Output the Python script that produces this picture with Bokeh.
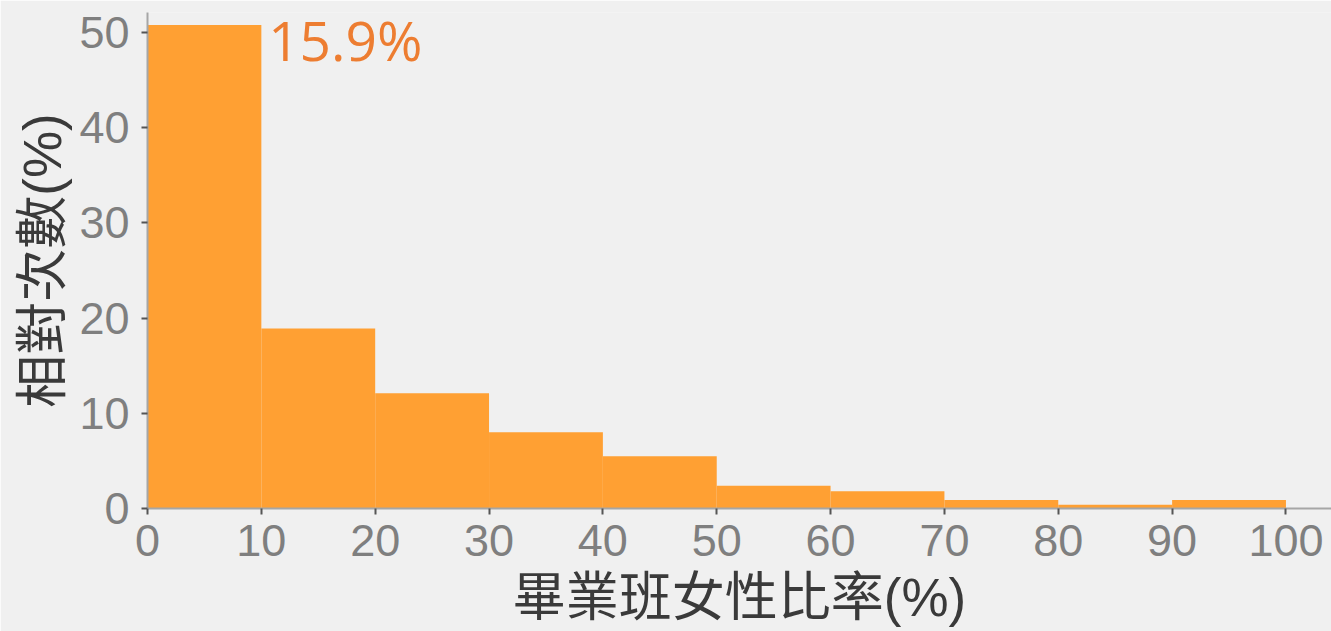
from bokeh.plotting import figure
from bokeh.models import Range1d, ColumnDataSource, Label, FixedTicker
from bokeh.embed import file_html
from bokeh.resources import INLINE

bin_left = [0, 10, 20, 30, 40, 50, 60, 70, 80, 90]
bin_right = [10, 20, 30, 40, 50, 60, 70, 80, 90, 100]
rel_freq = [50.8, 18.9, 12.1, 8.0, 5.5, 2.4, 1.8, 0.9, 0.4, 0.9]
x_ticks = [0, 10, 20, 30, 40, 50, 60, 70, 80, 90, 100]
y_ticks = [0, 10, 20, 30, 40, 50]
annotation = "15.9%"
x_title = "畢業班女性比率(%)"
y_title = "相對次數(%)"

src = ColumnDataSource(dict(left=bin_left, right=bin_right, top=rel_freq,
                            bottom=[0] * len(rel_freq)))

p = figure(width=1331, height=631, output_backend="svg", toolbar_location=None,
           x_range=Range1d(0, 104.0), y_range=Range1d(0, 52.1),
           min_border_left=147, min_border_right=0, min_border_top=12,
           min_border_bottom=123,
           background_fill_color="#f0f0f0", border_fill_color="#f0f0f0")
p.outline_line_color = None
p.grid.visible = False

p.quad(left="left", right="right", top="top", bottom="bottom", source=src,
       fill_color="#FFA033", line_color=None)

label_font = "Liberation Sans, 'Noto Sans CJK TC'"
for ax in (p.xaxis[0], p.yaxis[0]):
    ax.axis_line_color = "#a6a6a6"
    ax.axis_line_width = 2
    ax.major_tick_line_color = "#555555"
    ax.major_tick_line_width = 2
    ax.major_tick_out = 6
    ax.major_tick_in = 0
    ax.minor_tick_line_color = None
    ax.major_label_text_font = "Liberation Sans"
    ax.major_label_text_font_size = "45px"
    ax.major_label_text_color = "#7f7f7f"
    ax.axis_label_text_font = label_font
    ax.axis_label_text_font_size = "53px"
    ax.axis_label_text_font_style = "normal"
    ax.axis_label_text_color = "#3a3a3a"
    ax.axis_label_text_line_height = 0.9

p.xaxis.ticker = FixedTicker(ticks=x_ticks)
p.yaxis.ticker = FixedTicker(ticks=y_ticks)
p.xaxis.axis_label = x_title
p.yaxis.axis_label = y_title
p.xaxis.major_label_standoff = 10
p.yaxis.major_label_standoff = 12
p.xaxis.axis_label_standoff = 9
p.yaxis.axis_label_standoff = 4

p.add_layout(Label(x=10.6, y=49.25, text=annotation, text_baseline="alphabetic",
                   text_font="Open Sans", text_font_size="55px",
                   text_color="#ED7D31"))

open("out.html", "w").write(file_html(p, INLINE))
